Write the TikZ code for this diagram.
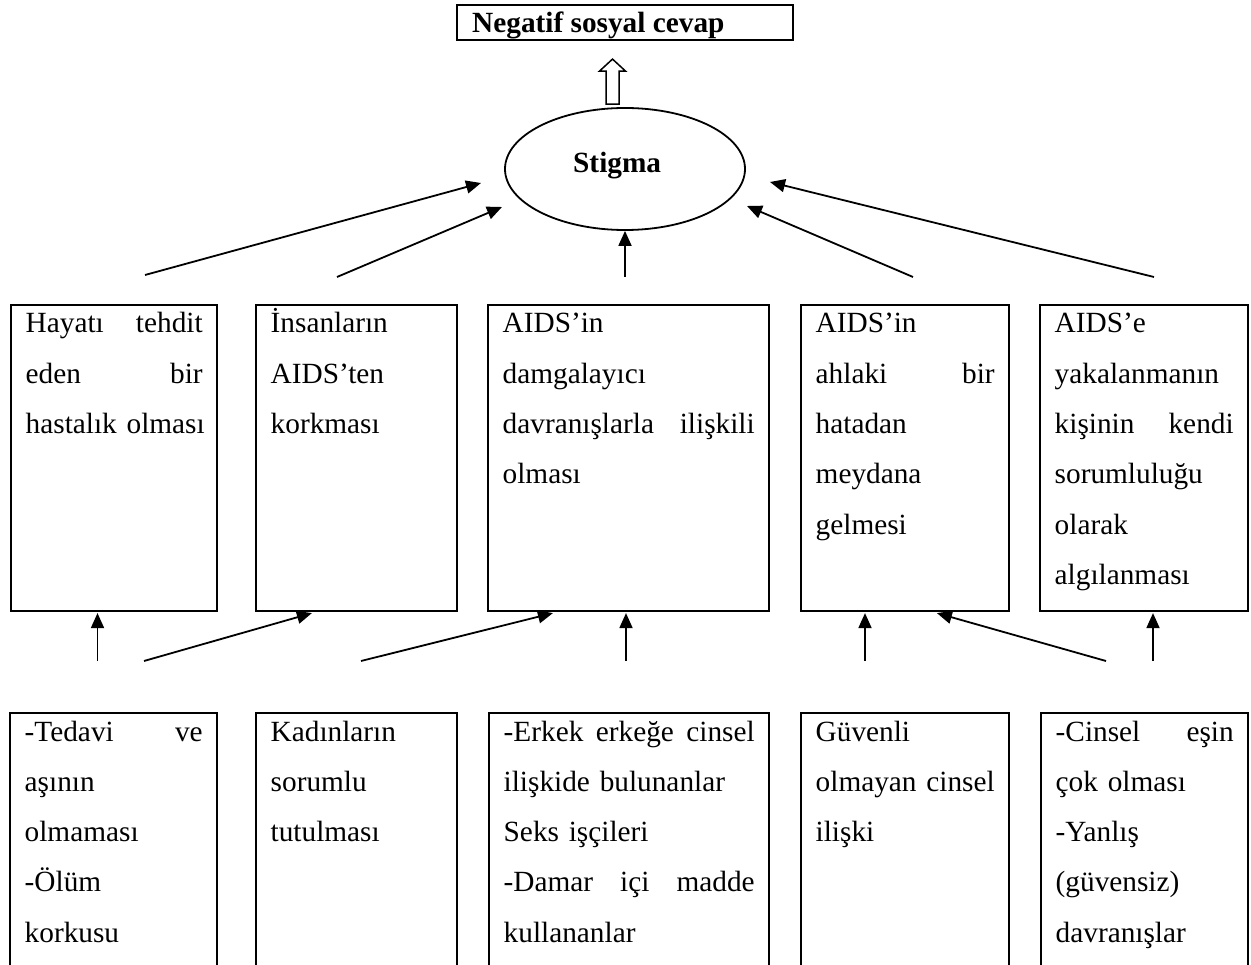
\documentclass[tikz,border=0pt]{standalone}
\usepackage{fontspec}
\setmainfont{Liberation Serif}
\usetikzlibrary{arrows.meta,calc,shapes.geometric}
\newcommand\gap{\nobreak\hfill}
\begin{document}
\begin{tikzpicture}[x=1pt,y=-1pt,
  box/.style={draw,line width=2.2pt,inner sep=0pt,minimum height=306pt},
  obox/.style={draw,line width=2.2pt,inner sep=0pt,minimum height=287pt},
  txt/.style={anchor=base west,inner sep=0pt,align=left,font=\fontsize{29.3}{50.3}\selectfont},
  ttl/.style={anchor=base west,inner sep=0pt,font=\fontsize{29.3}{35}\selectfont\bfseries},
  arr/.style={line width=1.8pt,-{Triangle[length=15pt,width=13pt]}},
]
\useasboundingbox (0,0) rectangle (1251,965);

% top box and ellipse
\node[draw,line width=2.2pt,inner sep=0pt,minimum width=336pt,minimum height=35pt] (neg) at (625,22.5) {};
\node[ttl] (negt) at (472,33) {Negatif sosyal cevap};
\node[draw,ellipse,line width=1.8pt,inner sep=0pt,minimum width=240pt,minimum height=122pt] (st) at (625,169) {};
\node[ttl] (stt) at (573,173) {Stigma};

% hollow arrow from ellipse up to top box
\coordinate (ha) at ($(st.north)+(-12.5,-3)$);
\draw[line width=1.5pt] ($(ha)+(-6.5,0)$) -- ++(0,-33) -- ++(-6.5,0) -- ++(13,-12) -- ++(13,12) -- ++(-6.5,0) -- ++(0,33) -- cycle;

% middle boxes
\node[box,minimum width=206pt] (m1) at (114,458) {};
\node[box,minimum width=201pt] (m2) at (356.5,458) {};
\node[box,minimum width=281pt] (m3) at (628.5,458) {};
\node[box,minimum width=208pt] (m4) at (905,458) {};
\node[box,minimum width=208pt] (m5) at (1144,458) {};

\node[txt,text width=177pt] (m1t) at (25.5,333) {Hayatı\gap tehdit\\ eden\gap bir\\ \mbox{hastalık olması}};
\node[txt,text width=172pt] (m2t) at (270.5,333) {İnsanların\\ AIDS’ten\\ korkması};
\node[txt,text width=252pt] (m3t) at (502.5,333) {AIDS’in\\ damgalayıcı\\ davranışlarla\gap ilişkili\\ olması};
\node[txt,text width=179pt] (m4t) at (815.5,333) {AIDS’in\\ ahlaki\gap bir\\ hatadan\\ meydana\\ gelmesi};
\node[txt,text width=179pt] (m5t) at (1054.5,333) {AIDS’e\\ yakalanmanın\\ kişinin\gap kendi\\ sorumluluğu\\ olarak\\ algılanması};

% bottom boxes (open at the bottom)
\node[obox,minimum width=207pt] (b1) at (113.5,856.5) {};
\node[obox,minimum width=201pt] (b2) at (356.5,856.5) {};
\node[obox,minimum width=280pt] (b3) at (629,856.5) {};
\node[obox,minimum width=208pt] (b4) at (905,856.5) {};
\node[obox,minimum width=207pt] (b5) at (1144.5,856.5) {};

\node[txt,text width=178pt] (b1t) at (24.5,741) {-Tedavi\gap ve\\ aşının\\ olmaması\\ -Ölüm\\ korkusu};
\node[txt,text width=172pt] (b2t) at (270.5,741) {Kadınların\\ sorumlu\\ tutulması};
\node[txt,text width=251pt] (b3t) at (503.5,741) {-Erkek\gap erkeğe\gap cinsel\\ \mbox{ilişkide bulunanlar}\\ \mbox{Seks işçileri}\\ -Damar\gap içi\gap madde\\ kullananlar};
\node[txt,text width=179pt] (b4t) at (815.5,741) {Güvenli\\ olmayan\gap cinsel\\ ilişki};
\node[txt,text width=178pt] (b5t) at (1055.5,741) {-Cinsel\gap eşin\\ \mbox{çok olması}\\ -Yanlış\\ (güvensiz)\\ davranışlar};

% arrows from middle boxes to stigma
\coordinate (tB1) at (145,275);
\coordinate (tB2) at (337,277);
\coordinate (tB3) at (625,277);
\coordinate (tB4) at (913,277);
\coordinate (tB5) at (1154,277);
\draw[arr] (tB1) -- ($(st.center)+(-144,14)$);
\draw[arr] (tB2) -- ($(st.center)+(-123,38)$);
\draw[arr] (tB3) -- (tB3 |- st.south);
\draw[arr] (tB4) -- ($(st.center)+(122,37)$);
\draw[arr] (tB5) -- ($(st.center)+(145,13)$);

% arrows from bottom row to middle boxes
\coordinate (tA1) at (97.5,661);
\coordinate (tA2) at (144,661);
\coordinate (tA3) at (361,661);
\coordinate (tA4) at (626,661);
\coordinate (tA5) at (865,661);
\coordinate (tA6) at (1106,661);
\coordinate (tA7) at (1153,661);
\draw[arr] (tA1) -- ($(tA1 |- m1.south)+(0,1)$);
\draw[arr] (tA2) -- ($(m2.south west)+(57,1)$);
\draw[arr] (tA3) -- ($(m3.south west)+(66,1)$);
\draw[arr] (tA4) -- ($(tA4 |- m3.south)+(0,1)$);
\draw[arr] (tA5) -- ($(tA5 |- m4.south)+(0,1)$);
\draw[arr] (tA6) -- ($(m4.south west)+(137,1)$);
\draw[arr] (tA7) -- ($(tA7 |- m5.south)+(0,1)$);
\end{tikzpicture}
\end{document}
